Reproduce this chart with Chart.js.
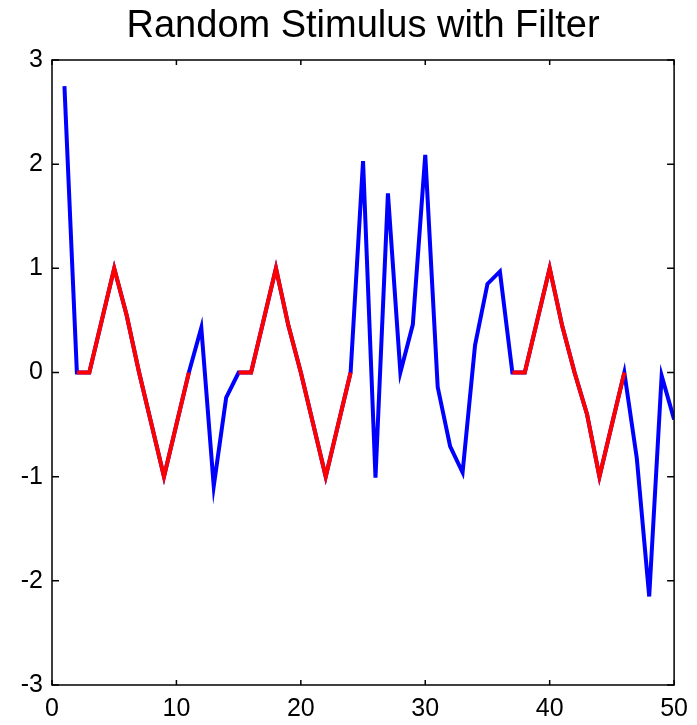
<!DOCTYPE html>
<html>
<head>
<meta charset="utf-8">
<script src="https://cdn.jsdelivr.net/npm/chart.js@4"></script>
<style>
  html, body { margin: 0; padding: 0; background: #fff; }
  #wrap { width: 697px; height: 725px; }
</style>
</head>
<body>
<div id="wrap"><canvas id="stimChart"></canvas></div>
<script>
var steps = [1, 2, 3, 4, 5, 6, 7, 8, 9, 10, 11, 12, 13, 14, 15, 16, 17, 18, 19, 20,
             21, 22, 23, 24, 25, 26, 27, 28, 29, 30, 31, 32, 33, 34, 35, 36, 37, 38, 39, 40,
             41, 42, 43, 44, 45, 46, 47, 48, 49, 50];

var stimulus = [2.75, 0, 0, 0.5, 1, 0.55, 0, -0.5, -1, -0.5, 0, 0.43, -1.09, -0.24, 0, 0, 0.5, 1, 0.45, 0,
                -0.5, -1, -0.5, 0, 2.03, -1.01, 1.72, 0, 0.46, 2.09, -0.14, -0.71, -0.96, 0.26, 0.85, 0.97, 0, 0, 0.5, 1,
                0.45, 0, -0.4, -1, -0.5, 0, -0.82, -2.15, -0.03, -0.45];

var filtered = [null, 0, 0, 0.5, 1, 0.55, 0, -0.5, -1, -0.5, 0, null, null, null, 0, 0, 0.5, 1, 0.45, 0,
                -0.5, -1, -0.5, 0, null, null, null, null, null, null, null, null, null, null, null, null, 0, 0, 0.5, 1,
                0.45, 0, -0.4, -1, -0.5, 0, null, null, null, null];

var xTicks = [0, 10, 20, 30, 40, 50];
var yTicks = [-3, -2, -1, 0, 1, 2, 3];

function pairs(ys) {
  return steps.map(function (x, i) { return { x: x, y: ys[i] }; });
}

// box round the plot plus inward tick marks on all four sides
var boxPlugin = {
  id: 'box',
  afterDraw: function (chart) {
    var ctx = chart.ctx;
    var a = chart.chartArea;
    var xs = chart.scales.x, ys = chart.scales.y;
    ctx.save();
    ctx.strokeStyle = '#000';
    ctx.lineWidth = 1.5;
    ctx.beginPath();
    xTicks.forEach(function (v) {
      var px = xs.getPixelForValue(v);
      ctx.moveTo(px, a.bottom); ctx.lineTo(px, a.bottom - 5);
      ctx.moveTo(px, a.top); ctx.lineTo(px, a.top + 5);
    });
    yTicks.forEach(function (v) {
      var py = ys.getPixelForValue(v);
      ctx.moveTo(a.left, py); ctx.lineTo(a.left + 7, py);
      ctx.moveTo(a.right, py); ctx.lineTo(a.right - 7, py);
    });
    ctx.stroke();
    ctx.strokeRect(a.left, a.top, a.right - a.left, a.bottom - a.top);
    ctx.restore();
  }
};

var stimCanvas = document.getElementById('stimChart');

var stimChart = new Chart(stimCanvas, {
  type: 'line',
  data: {
    datasets: [
      {
        label: 'Filter',
        data: pairs(filtered),
        borderColor: '#FF0000',
        borderWidth: 4,
        pointRadius: 0,
        tension: 0,
        spanGaps: false
      },
      {
        label: 'Stimulus',
        data: pairs(stimulus),
        borderColor: '#0000FF',
        borderWidth: 4,
        pointRadius: 0,
        tension: 0
      }
    ]
  },
  options: {
    responsive: true,
    maintainAspectRatio: false,
    animation: false,
    layout: { padding: 0 },
    plugins: {
      legend: { display: false },
      tooltip: { enabled: false },
      title: {
        display: true,
        fullSize: false,
        text: 'Random Stimulus with Filter',
        color: '#000',
        font: { family: 'Liberation Sans, Arial, sans-serif', size: 38, weight: 'normal' },
        padding: { top: 4, bottom: 10.4 }
      }
    },
    scales: {
      x: {
        type: 'linear',
        min: 0,
        max: 50,
        afterBuildTicks: function (s) { s.ticks = xTicks.map(function (v) { return { value: v }; }); },
        afterFit: function (s) { s.height = 40; },
        grid: { display: false, drawTicks: false },
        border: { display: false },
        ticks: {
          color: '#000',
          padding: 9,
          maxRotation: 0,
          font: { family: 'Liberation Sans, Arial, sans-serif', size: 25 }
        }
      },
      y: {
        min: -3,
        max: 3,
        afterBuildTicks: function (s) { s.ticks = yTicks.map(function (v) { return { value: v }; }); },
        afterFit: function (s) { s.width = 52; },
        grid: { display: false, drawTicks: false },
        border: { display: false },
        ticks: {
          color: '#000',
          padding: 9,
          font: { family: 'Liberation Sans, Arial, sans-serif', size: 25 }
        }
      },
      yRight: {
        position: 'right',
        min: -3,
        max: 3,
        afterFit: function (s) { s.width = 22; },
        grid: { display: false, drawTicks: false },
        border: { display: false },
        ticks: { display: false }
      }
    }
  },
  plugins: [boxPlugin]
});
</script>
</body>
</html>
